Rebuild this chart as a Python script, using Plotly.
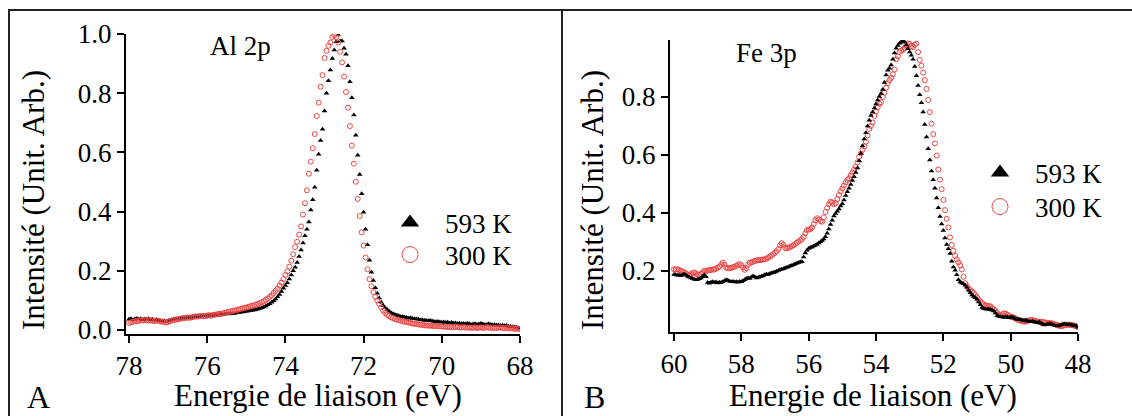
import numpy as np
import plotly.graph_objects as go

# ---------------- data ----------------
# Al 2p : binding energy grid 78.00 -> 68.00 eV, 0.05 eV step
al_energy = np.round(np.linspace(78.0, 68.0, 201), 2)
al_593K = [
    0.036,0.038,0.035,0.037,0.039,0.036,0.038,0.035,0.037,0.036,
    0.038,0.035,0.036,0.034,0.035,0.033,0.032,0.030,0.031,0.029,
    0.031,0.033,0.035,0.036,0.038,0.037,0.039,0.040,0.041,0.040,
    0.042,0.043,0.042,0.044,0.045,0.046,0.045,0.047,0.048,0.047,
    0.049,0.048,0.050,0.049,0.051,0.050,0.052,0.053,0.052,0.054,
    0.055,0.054,0.056,0.057,0.056,0.058,0.059,0.060,0.061,0.062,
    0.063,0.064,0.065,0.066,0.068,0.069,0.071,0.073,0.075,0.078,
    0.081,0.085,0.089,0.094,0.099,0.105,0.112,0.120,0.130,0.141,
    0.150,0.160,0.172,0.186,0.200,0.212,0.228,0.248,0.270,0.294,
    0.318,0.340,0.365,0.405,0.440,0.482,0.540,0.594,0.640,0.678,
    0.740,0.800,0.842,0.878,0.917,0.946,0.974,0.998,0.976,0.976,
    0.952,0.932,0.893,0.839,0.785,0.726,0.658,0.590,0.525,0.460,
    0.398,0.340,0.288,0.236,0.195,0.167,0.143,0.124,0.108,0.094,
    0.083,0.075,0.069,0.063,0.058,0.055,0.052,0.050,0.048,0.046,
    0.045,0.043,0.042,0.040,0.041,0.039,0.038,0.037,0.036,0.034,
    0.035,0.033,0.032,0.031,0.032,0.030,0.029,0.028,0.029,0.027,
    0.026,0.027,0.025,0.026,0.024,0.025,0.023,0.024,0.022,0.023,
    0.021,0.022,0.020,0.022,0.021,0.019,0.020,0.021,0.019,0.020,
    0.022,0.020,0.018,0.019,0.021,0.019,0.017,0.018,0.016,0.017,
    0.015,0.016,0.014,0.015,0.013,0.012,0.011,0.010,0.009,0.008,
    0.006,
]
al_300K = [
    0.024,0.026,0.028,0.030,0.029,0.031,0.033,0.032,0.034,0.033,
    0.032,0.033,0.031,0.030,0.032,0.031,0.029,0.028,0.027,0.025,
    0.027,0.030,0.032,0.034,0.035,0.036,0.038,0.039,0.040,0.041,
    0.042,0.041,0.043,0.044,0.046,0.045,0.047,0.048,0.046,0.047,
    0.049,0.050,0.048,0.051,0.052,0.053,0.055,0.054,0.056,0.058,
    0.060,0.061,0.063,0.064,0.066,0.067,0.069,0.071,0.073,0.075,
    0.076,0.078,0.080,0.082,0.084,0.086,0.088,0.091,0.094,0.097,
    0.102,0.107,0.112,0.118,0.125,0.132,0.140,0.150,0.160,0.172,
    0.186,0.198,0.214,0.234,0.256,0.280,0.298,0.322,0.350,0.390,
    0.428,0.472,0.528,0.569,0.614,0.662,0.723,0.768,0.822,0.861,
    0.919,0.943,0.960,0.971,0.990,0.996,0.989,0.971,0.940,0.904,
    0.856,0.804,0.751,0.689,0.623,0.562,0.501,0.443,0.385,0.330,
    0.285,0.245,0.205,0.172,0.148,0.128,0.112,0.100,0.088,0.076,
    0.066,0.058,0.052,0.047,0.043,0.040,0.037,0.035,0.033,0.032,
    0.030,0.028,0.027,0.025,0.024,0.022,0.021,0.020,0.019,0.018,
    0.017,0.016,0.015,0.016,0.014,0.015,0.013,0.014,0.012,0.013,
    0.012,0.011,0.012,0.010,0.011,0.010,0.009,0.011,0.010,0.009,
    0.008,0.010,0.009,0.008,0.009,0.007,0.008,0.009,0.007,0.008,
    0.009,0.007,0.008,0.010,0.008,0.007,0.008,0.006,0.007,0.008,
    0.009,0.007,0.006,0.008,0.007,0.005,0.006,0.004,0.005,0.004,
    0.003,
]

# Fe 3p : binding energy grid 60.00 -> 48.00 eV, 0.05 eV step
fe_energy = np.round(np.linspace(60.0, 48.0, 241), 2)
fe_593K = [
    0.188,0.187,0.185,0.186,0.184,0.187,0.190,0.186,0.182,0.179,
    0.176,0.174,0.172,0.170,0.171,0.173,0.176,0.181,0.186,0.180,
    0.160,0.158,0.161,0.163,0.160,0.162,0.159,0.161,0.160,0.163,
    0.166,0.170,0.168,0.165,0.163,0.164,0.162,0.163,0.161,0.164,
    0.163,0.166,0.170,0.174,0.176,0.174,0.179,0.183,0.180,0.176,
    0.178,0.180,0.182,0.184,0.187,0.189,0.188,0.191,0.193,0.195,
    0.197,0.199,0.202,0.204,0.206,0.208,0.210,0.212,0.215,0.217,
    0.219,0.222,0.224,0.227,0.229,0.231,0.232,0.248,0.262,0.272,
    0.278,0.281,0.283,0.286,0.289,0.292,0.297,0.301,0.305,0.310,
    0.318,0.330,0.345,0.360,0.375,0.390,0.398,0.406,0.414,0.424,
    0.432,0.445,0.460,0.473,0.485,0.498,0.512,0.525,0.540,0.555,
    0.580,0.605,0.632,0.655,0.677,0.700,0.720,0.736,0.748,0.762,
    0.776,0.790,0.802,0.812,0.826,0.850,0.876,0.892,0.899,0.910,
    0.930,0.952,0.968,0.978,0.985,0.990,0.996,0.990,0.979,0.966,
    0.955,0.944,0.930,0.905,0.873,0.840,0.808,0.780,0.748,0.705,
    0.662,0.622,0.583,0.545,0.515,0.485,0.452,0.418,0.388,0.362,
    0.340,0.314,0.291,0.277,0.260,0.234,0.214,0.203,0.187,0.170,
    0.162,0.159,0.156,0.151,0.144,0.134,0.125,0.117,0.112,0.108,
    0.103,0.093,0.084,0.074,0.070,0.069,0.068,0.068,0.067,0.065,
    0.062,0.055,0.047,0.044,0.042,0.041,0.040,0.042,0.041,0.039,
    0.040,0.041,0.038,0.035,0.033,0.034,0.032,0.030,0.029,0.031,
    0.028,0.026,0.025,0.027,0.024,0.023,0.022,0.024,0.020,0.016,
    0.014,0.015,0.017,0.018,0.017,0.015,0.013,0.011,0.010,0.012,
    0.015,0.017,0.017,0.016,0.015,0.016,0.014,0.013,0.012,0.010,
    0.006,
]
fe_300K = [
    0.206,0.205,0.206,0.204,0.201,0.199,0.196,0.192,0.188,0.186,
    0.189,0.193,0.195,0.192,0.188,0.186,0.190,0.195,0.201,0.199,
    0.202,0.204,0.203,0.206,0.205,0.208,0.212,0.215,0.222,0.229,
    0.222,0.212,0.209,0.210,0.211,0.213,0.215,0.218,0.221,0.224,
    0.220,0.212,0.204,0.210,0.222,0.229,0.230,0.232,0.235,0.236,
    0.238,0.237,0.239,0.240,0.240,0.243,0.246,0.250,0.254,0.259,
    0.263,0.268,0.276,0.288,0.296,0.290,0.280,0.278,0.280,0.283,
    0.286,0.289,0.293,0.298,0.302,0.306,0.310,0.318,0.330,0.341,
    0.343,0.344,0.350,0.362,0.375,0.382,0.378,0.372,0.370,0.385,
    0.404,0.418,0.430,0.439,0.436,0.430,0.434,0.448,0.462,0.475,
    0.485,0.495,0.506,0.514,0.520,0.530,0.540,0.550,0.560,0.575,
    0.594,0.605,0.618,0.630,0.646,0.668,0.690,0.700,0.712,0.735,
    0.750,0.765,0.777,0.782,0.800,0.815,0.832,0.848,0.858,0.866,
    0.878,0.895,0.930,0.940,0.955,0.960,0.963,0.968,0.978,0.985,
    0.983,0.976,0.972,0.980,0.984,0.955,0.928,0.908,0.884,0.858,
    0.828,0.790,0.748,0.708,0.672,0.640,0.598,0.550,0.515,0.482,
    0.445,0.410,0.380,0.350,0.316,0.290,0.270,0.252,0.240,0.230,
    0.220,0.205,0.180,0.158,0.148,0.140,0.134,0.129,0.124,0.118,
    0.110,0.101,0.095,0.089,0.085,0.082,0.080,0.079,0.078,0.072,
    0.068,0.063,0.056,0.049,0.048,0.051,0.054,0.053,0.049,0.045,
    0.042,0.041,0.039,0.036,0.032,0.030,0.029,0.027,0.025,0.026,
    0.028,0.030,0.031,0.031,0.029,0.027,0.026,0.025,0.024,0.025,
    0.023,0.022,0.021,0.020,0.020,0.019,0.017,0.015,0.013,0.011,
    0.010,0.011,0.013,0.014,0.015,0.014,0.014,0.013,0.011,0.009,
    0.007,
]

series_names = ["593 K", "300 K"]
al_ticks = [78, 76, 74, 72, 70, 68]
fe_ticks = [60, 58, 56, 54, 52, 50, 48]
al_yticks = [0.0, 0.2, 0.4, 0.6, 0.8, 1.0]
fe_yticks = [0.2, 0.4, 0.6, 0.8]

# ---------------- styling / layout helpers ----------------
W, H = 1132, 416
FONT = "Liberation Serif"
BLACK = "black"
RED = "rgb(236,70,70)"


def px(x):
    return x / W


def py(y):
    return 1 - y / H


tri_small = dict(symbol="triangle-up", size=5, color=BLACK, line=dict(width=0))
circ_small = dict(symbol="circle-open", size=5, color=RED, line=dict(width=1, color=RED))
tri_leg = dict(symbol="triangle-up", size=16, color=BLACK, line=dict(width=0))
circ_leg = dict(symbol="circle-open", size=16, color=RED, line=dict(width=1, color=RED))

fig = go.Figure()

# Al 2p panel (black below, red on top)
fig.add_trace(go.Scatter(x=al_energy, y=al_593K, mode="markers", marker=tri_small,
                         showlegend=False, xaxis="x", yaxis="y", name=series_names[0]))
fig.add_trace(go.Scatter(x=al_energy, y=al_300K, mode="markers", marker=circ_small,
                         showlegend=False, xaxis="x", yaxis="y", name=series_names[1]))
# Fe 3p panel (red below, black on top)
fig.add_trace(go.Scatter(x=fe_energy, y=fe_300K, mode="markers", marker=circ_small,
                         showlegend=False, xaxis="x2", yaxis="y2", name=series_names[1]))
fig.add_trace(go.Scatter(x=fe_energy, y=fe_593K, mode="markers", marker=tri_small,
                         showlegend=False, xaxis="x2", yaxis="y2", name=series_names[0]))

# legend entries (one legend per entry so each can be placed like the original)
for name, mk, leg, xa, ya in [
    (series_names[0], tri_leg, "legend", "x", "y"),
    (series_names[1], circ_leg, "legend2", "x", "y"),
    (series_names[0], tri_leg, "legend3", "x2", "y2"),
    (series_names[1], circ_leg, "legend4", "x2", "y2"),
]:
    fig.add_trace(go.Scatter(x=[None], y=[None], mode="markers", marker=mk, name=name,
                             showlegend=True, legend=leg, xaxis=xa, yaxis=ya,
                             hoverinfo="skip"))

axis_common = dict(
    showline=True, linewidth=2, linecolor=BLACK, mirror=False,
    ticks="outside", ticklen=7, tickwidth=2, tickcolor=BLACK,
    showgrid=False, zeroline=False, automargin=False,
    tickfont=dict(family=FONT, size=27, color=BLACK),
)


def leg(xl, yc):
    return dict(x=px(xl), y=py(yc), xanchor="left", yanchor="middle", itemwidth=60,
                font=dict(family=FONT, size=27, color=BLACK),
                bgcolor="rgba(0,0,0,0)", borderwidth=0)


fig.update_layout(
    template="none",
    width=W, height=H, autosize=False,
    margin=dict(l=0, r=0, t=0, b=0, pad=0, autoexpand=False),
    paper_bgcolor="white", plot_bgcolor="white",
    font=dict(family=FONT, color=BLACK, size=27),
    xaxis=dict(domain=[px(126), px(520)], range=[78.077, 68.0], anchor="y",
               tickvals=al_ticks, **axis_common),
    yaxis=dict(domain=[py(334), py(34)], range=[-0.0135, 1.0], anchor="x",
               tickvals=al_yticks, tickformat=".1f", **axis_common),
    xaxis2=dict(domain=[px(670), px(1078)], range=[60.119, 48.0], anchor="y2",
                tickvals=fe_ticks, **axis_common),
    yaxis2=dict(domain=[py(332), py(40)], range=[-0.0103, 0.9966], anchor="x2",
                tickvals=fe_yticks, tickformat=".1f", **axis_common),
    legend=leg(375, 223),
    legend2=leg(375, 255),
    legend3=leg(965, 173),
    legend4=leg(965, 207),
)

frame = dict(type="line", xref="paper", yref="paper", line=dict(color="#222", width=2))
fig.add_shape(x0=px(8), x1=1.0, y0=py(10), y1=py(10), **frame)
fig.add_shape(x0=px(9), x1=px(9), y0=py(10), y1=0.0, **frame)
fig.add_shape(x0=px(562), x1=px(562), y0=py(10), y1=0.0, **frame)


def note(text, x, y, size, angle=0):
    fig.add_annotation(text=text, x=px(x), y=py(y), xref="paper", yref="paper",
                       xanchor="center", yanchor="middle", showarrow=False,
                       textangle=angle, font=dict(family=FONT, size=size, color=BLACK))


note("Al 2p", 240, 46, 27)
note("Fe 3p", 766, 53, 27)
note("A", 38, 397, 32)
note("B", 594, 397, 32)
note("Intensité (Unit. Arb.)", 33, 200, 31, -90)
note("Intensité (Unit. Arb.)", 592, 200, 31, -90)
note("Energie de liaison (eV)", 318, 395, 31)
note("Energie de liaison (eV)", 873, 395, 31)

fig.write_html("out.html", config={"displayModeBar": False},
               post_script="document.body.style.margin='0';")
